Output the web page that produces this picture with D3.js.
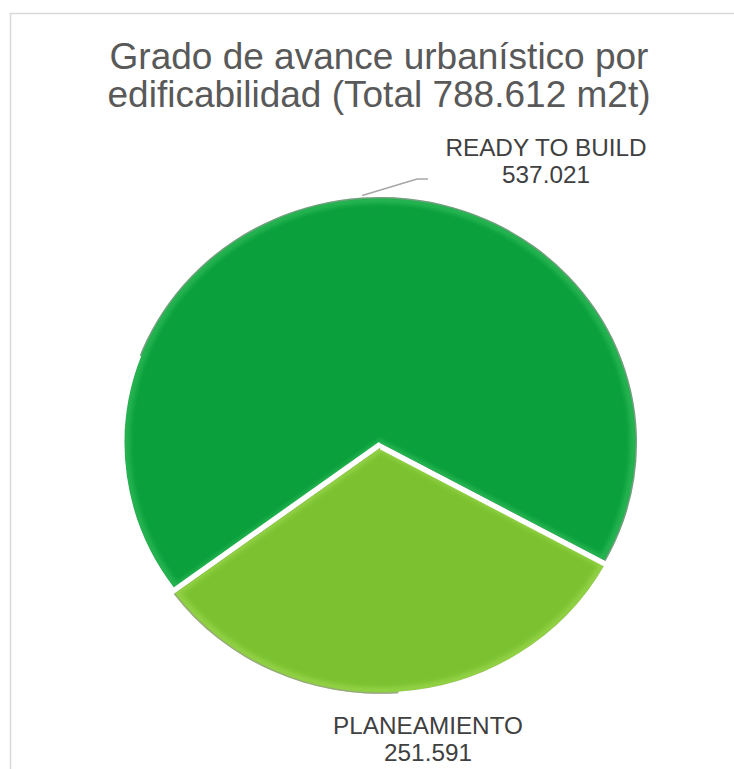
<!DOCTYPE html>
<html>
<head>
<meta charset="utf-8">
<script src="https://cdn.jsdelivr.net/npm/d3@7"></script>
<style>
  body { margin: 0; background: #fff; }
  svg { display: block; font-family: "Liberation Sans", Arial, sans-serif; }
</style>
</head>
<body>
<div id="chart"></div>
<script>
// data
var titleLines = ["Grado de avance urbanístico por", "edificabilidad (Total 788.612 m2t)"];
var categories = ["READY TO BUILD", "PLANEAMIENTO"];
var values = [537021, 251591];
var valueLabels = ["537.021", "251.591"];
var colors = ["#0aa03c", "#7cc230"];
var highlights = ["#3fc765", "#a6e05a"];

var width = 734, height = 769;
var cx = 380, cy = 443;
var rx = 257, ry = 246;
var explode = [0, 5];
var startDeg = 233.5;

var svg = d3.select("#chart").append("svg")
   .attr("width", width)
   .attr("height", height);

var defs = svg.append("defs");
var blur = defs.append("filter").attr("id", "soft")
   .attr("x", "-10%").attr("y", "-10%").attr("width", "120%").attr("height", "120%");
blur.append("feGaussianBlur").attr("stdDeviation", 2.5);

// frame
svg.append("rect")
   .attr("x", 10.5).attr("y", 13.5)
   .attr("width", 760).attr("height", 800)
   .attr("fill", "none")
   .attr("stroke", "#d9d9d9")
   .attr("stroke-width", 1.5);

// title
svg.append("g").selectAll("text")
   .data(titleLines)
   .enter()
   .append("text")
   .attr("x", 379)
   .attr("y", function(d, i) { return 69 + i * 38; })
   .attr("text-anchor", "middle")
   .attr("font-size", 37)
   .attr("fill", "#595959")
   .text(function(d) { return d; });

var a0 = startDeg * Math.PI / 180;
var pie = d3.pie().sort(null).startAngle(a0).endAngle(a0 + 2 * Math.PI);
var arcs = pie(values);

var arc = d3.arc().innerRadius(0).outerRadius(rx);

function shift(d, i) {
  var m = (d.startAngle + d.endAngle) / 2;
  return "translate(" + (Math.sin(m) * explode[i]) + "," + (-Math.cos(m) * explode[i]) + ")";
}

var pieG = svg.append("g")
   .attr("transform", "translate(" + cx + "," + cy + ") scale(1," + (ry / rx) + ")");

var slices = pieG.selectAll("g.slice")
   .data(arcs)
   .enter()
   .append("g")
   .attr("class", "slice")
   .attr("transform", shift);

slices.append("clipPath")
   .attr("id", function(d, i) { return "clip" + i; })
   .append("path")
   .attr("d", arc);

// outer grey rim
slices.append("path")
   .attr("d", arc)
   .attr("fill", "#8a8a8a");

var inner = slices.append("g")
   .attr("clip-path", function(d, i) { return "url(#clip" + i + ")"; });

inner.append("path")
   .attr("d", d3.arc().innerRadius(0).outerRadius(rx - 1.5))
   .attr("fill", function(d, i) { return colors[i]; });

// soft bevel: light band along the edges
inner.append("path")
   .attr("d", d3.arc().innerRadius(0).outerRadius(rx - 3))
   .attr("fill", "none")
   .attr("stroke", function(d, i) { return highlights[i]; })
   .attr("stroke-width", 7)
   .attr("stroke-opacity", 0.55)
   .attr("filter", "url(#soft)");

// white separators between slices (radii only)
slices.append("path")
   .attr("d", arc)
   .attr("fill", "none")
   .attr("stroke", "#ffffff")
   .attr("stroke-width", 3)
   .attr("stroke-linejoin", "round")
   .attr("stroke-dasharray", function(d) {
     var arcLen = rx * (d.endAngle - d.startAngle);
     return rx + "," + arcLen + "," + rx;
   });

// leader line for the big slice: from outer edge at mid angle
var m0 = (arcs[0].startAngle + arcs[0].endAngle) / 2;
var lx = cx + Math.sin(m0) * (rx + 2);
var ly = cy - Math.cos(m0) * (ry + 2);
svg.append("polyline")
   .attr("points", [[lx, ly], [417, 179], [428, 179]].map(function(p) { return p.join(","); }).join(" "))
   .attr("fill", "none")
   .attr("stroke", "#a6a6a6")
   .attr("stroke-width", 1.5);

// data labels
var labelPos = [[546, 156], [428, 734]];
var labels = svg.append("g").selectAll("g")
   .data(categories)
   .enter()
   .append("g")
   .attr("transform", function(d, i) { return "translate(" + labelPos[i][0] + "," + labelPos[i][1] + ")"; });

labels.append("text")
   .attr("text-anchor", "middle")
   .attr("font-size", 24.3)
   .attr("fill", "#404040")
   .text(function(d) { return d; });

labels.append("text")
   .attr("text-anchor", "middle")
   .attr("y", 27)
   .attr("font-size", 24.3)
   .attr("fill", "#404040")
   .text(function(d, i) { return valueLabels[i]; });
</script>
</body>
</html>
